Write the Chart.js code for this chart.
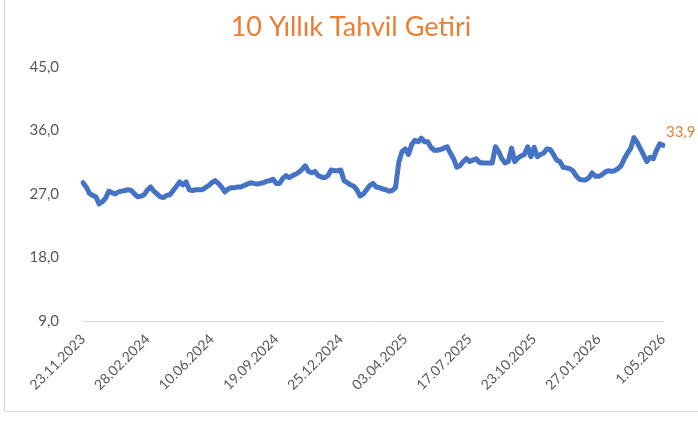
<!DOCTYPE html>
<html>
<head>
<meta charset="utf-8">
<script src="https://cdn.jsdelivr.net/npm/chart.js@4/dist/chart.umd.min.js"></script>
<style>
    body { margin: 0; background: #fff; }
    #frame { position: absolute; left: 4px; top: -2px; width: 720px; height: 412px; border: 1px solid #d9d9d9; }
    #wrap { position: absolute; left: 0; top: 0; width: 698px; height: 422px; }
</style>
</head>
<body>
<div id="frame"></div>
<div id="wrap"><canvas id="grafico" width="698" height="422"></canvas></div>
<script>
var titulo = '10 Yıllık Tahvil Getiri';

// Etiquetas del eje X (una cada 20 puntos)
var etiquetasEje = ['23.11.2023', '28.02.2024', '10.06.2024', '19.09.2024', '25.12.2024',
                    '03.04.2025', '17.07.2025', '23.10.2025', '27.01.2026', '1.05.2026'];
var puntosPorEtiqueta = 20;

// Rendimiento del bono a 10 años (%)
var getiri = [
    28.6, 28.0, 27.1, 26.8, 26.6, 25.6, 25.9, 26.4, 27.4, 27.2,
    27.0, 27.3, 27.4, 27.5, 27.6, 27.5, 27.0, 26.6, 26.7, 26.9,
    27.6, 28.0, 27.4, 27.0, 26.6, 26.5, 26.8, 26.9, 27.5, 28.1,
    28.7, 28.3, 28.7, 27.6, 27.5, 27.6, 27.6, 27.6, 27.9, 28.2,
    28.6, 28.9, 28.5, 28.0, 27.3, 27.7, 27.9, 27.9, 28.0, 28.0,
    28.2, 28.4, 28.6, 28.5, 28.4, 28.5, 28.6, 28.8, 28.9, 29.1,
    28.5, 28.5, 29.2, 29.6, 29.3, 29.6, 29.8, 30.1, 30.5, 31.0,
    30.2, 30.0, 30.2, 29.6, 29.4, 29.3, 29.6, 30.4, 30.3, 30.3,
    30.4, 28.9, 28.6, 28.3, 28.1, 27.6, 26.7, 27.0, 27.6, 28.2,
    28.5, 28.0, 27.9, 27.7, 27.6, 27.4, 27.5, 27.9, 31.5, 33.0,
    33.4, 32.6, 34.0, 34.6, 34.4, 34.9, 34.4, 34.4, 33.6, 33.2,
    33.2, 33.3, 33.5, 33.7, 32.8, 32.0, 30.8, 31.0, 31.6, 32.0,
    31.6, 31.8, 32.0, 31.5, 31.4, 31.4, 31.4, 31.4, 33.7, 33.0,
    32.0, 31.4, 31.6, 33.5, 31.6, 32.1, 32.4, 32.6, 33.7, 32.3,
    33.6, 32.3, 32.6, 32.8, 33.4, 33.3, 32.6, 31.8, 31.6, 30.8,
    30.7, 30.6, 30.3, 29.6, 29.1, 29.0, 29.0, 29.3, 30.0, 29.5,
    29.5, 29.7, 30.1, 30.3, 30.2, 30.3, 30.6, 31.0, 32.0, 32.8,
    33.5, 35.0, 34.3, 33.4, 32.5, 31.6, 32.2, 32.0, 33.2, 34.1,
    33.9
];

// Eje Y
var ejeMin = 9, ejeMax = 45, ejePaso = 9;

function formatoComa(v) {
    return Number(v).toFixed(1).replace('.', ',');
}

// Etiquetas de categoría: sólo cada 20 puntos lleva fecha
var categorias = getiri.map(function(v, i) {
    return (i % puntosPorEtiqueta === 0) ? etiquetasEje[i / puntosPorEtiqueta] : '';
});

// Plugin: título centrado en todo el lienzo y etiqueta del último valor
var textosExtra = {
    id: 'textosExtra',
    afterDatasetsDraw: function(chart) {
        var meta = chart.getDatasetMeta(0);
        var punto = meta.data[meta.data.length - 1];
        var ctx = chart.ctx;
        ctx.save();
        ctx.font = '15px Lato';
        ctx.fillStyle = '#ED7D31';
        ctx.textAlign = 'left';
        ctx.textBaseline = 'middle';
        ctx.fillText(formatoComa(getiri[getiri.length - 1]), punto.x + 3, punto.y - 13);

        ctx.font = '27px Lato';
        ctx.textAlign = 'center';
        ctx.fillText(titulo, 351, 27);
        ctx.restore();
    }
};

var ctx = document.getElementById('grafico').getContext('2d');
var grafico = new Chart(ctx, {
    type: 'line',
    data: {
        labels: categorias,
        datasets: [{
            label: titulo,
            data: getiri,
            borderColor: '#4472C4',
            borderWidth: 5,
            borderJoinStyle: 'round',
            borderCapStyle: 'round',
            pointRadius: 0,
            tension: 0,
            fill: false
        }]
    },
    options: {
        responsive: false,
        animation: false,
        layout: { padding: { left: 0, right: 35, top: 67, bottom: 0 } },
        plugins: {
            legend: { display: false },
            tooltip: { enabled: false },
            title: { display: false }
        },
        scales: {
            x: {
                grid: { display: false },
                border: { display: true, color: '#d9d9d9', width: 1 },
                ticks: {
                    autoSkip: false,
                    minRotation: 45,
                    maxRotation: 45,
                    color: '#595959',
                    font: { family: 'Lato', size: 14 },
                    padding: 2
                },
                afterFit: function(scale) { scale.height = 101; }
            },
            y: {
                min: ejeMin,
                max: ejeMax,
                grid: { display: false },
                border: { display: false },
                ticks: {
                    stepSize: ejePaso,
                    color: '#595959',
                    font: { family: 'Lato', size: 15 },
                    padding: 16,
                    callback: function(v) { return formatoComa(v); }
                },
                afterFit: function(scale) { scale.width = 83; }
            }
        }
    },
    plugins: [textosExtra]
});
</script>
</body>
</html>
